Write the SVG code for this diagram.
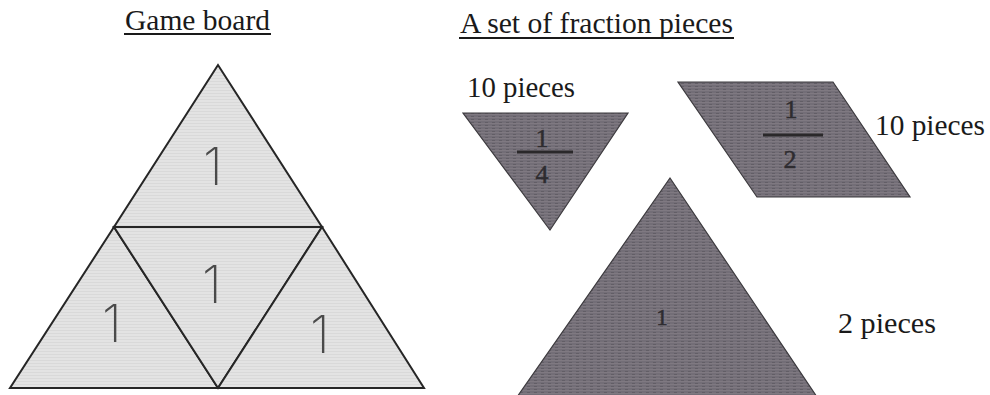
<svg xmlns="http://www.w3.org/2000/svg" width="990" height="395" viewBox="0 0 990 395">
<defs>
<pattern id="lightTex" width="6" height="3" patternUnits="userSpaceOnUse">
<rect width="6" height="3" fill="#e3e3e3"/>
<rect y="0" width="6" height="1" fill="#d9d9d9"/>
</pattern>
<pattern id="darkTex" width="7" height="3" patternUnits="userSpaceOnUse">
<rect width="7" height="3" fill="#736e77"/>
<rect y="0" width="7" height="1" fill="#7f7981"/>
<rect x="2" y="2" width="3" height="1" fill="#625e66"/>
</pattern>
<style>
.title{font-family:"Liberation Serif","Times New Roman",serif;font-size:29px;fill:#1a1a1a}
.lbl{font-family:"Liberation Serif","Times New Roman",serif;font-size:29px;fill:#1a1a1a}
.frac{font-family:"Liberation Serif","Times New Roman",serif;font-size:26px;fill:#2e2c30;stroke:#2e2c30;stroke-width:0.5;text-anchor:middle}
.one{font-family:"Inter","Liberation Sans",sans-serif;font-weight:200;font-size:52px;fill:#4a4a4a;text-anchor:middle}
.cell{fill:url(#lightTex);stroke:#262626;stroke-width:2;stroke-linejoin:miter}
.piece{fill:url(#darkTex);stroke:#3c3a3e;stroke-width:1.2}
.ul{stroke:#1a1a1a;stroke-width:2}
.bar{stroke:#2a282a;stroke-width:3}
</style>
</defs>
<rect width="990" height="395" fill="#ffffff"/>

<g id="title-board">
<text class="title" x="125" y="30" textLength="145" lengthAdjust="spacingAndGlyphs">Game board</text>
<line class="ul" x1="124" y1="34" x2="271" y2="34"/>
</g>
<g id="title-pieces">
<text class="title" x="460" y="33" textLength="273" lengthAdjust="spacingAndGlyphs">A set of fraction pieces</text>
<line class="ul" x1="459" y1="38" x2="734" y2="38"/>
</g>

<g id="board">
<g id="cell-top"><polygon class="cell" points="218,65 114,227 322,227"/><text class="one" x="213" y="185">1</text></g>
<g id="cell-left"><polygon class="cell" points="114,227 10,388 218,388"/><text class="one" x="112" y="342">1</text></g>
<g id="cell-middle"><polygon class="cell" points="114,227 322,227 218,388"/><text class="one" x="212" y="303">1</text></g>
<g id="cell-right"><polygon class="cell" points="322,227 218,388 424,388"/><text class="one" x="320" y="353">1</text></g>
</g>

<g id="piece-quarter">
<text class="lbl" x="467" y="97" textLength="108" lengthAdjust="spacingAndGlyphs">10 pieces</text>
<polygon class="piece" points="463,113 628,113 550,230"/>
<text class="frac" x="542" y="147">1</text>
<line class="bar" x1="517" y1="152" x2="573" y2="152"/>
<text class="frac" x="542" y="183">4</text>
</g>

<g id="piece-half">
<polygon class="piece" points="678,82 833,82 910,197 757,197"/>
<text class="frac" x="791" y="118">1</text>
<line class="bar" x1="763" y1="135" x2="823" y2="135"/>
<text class="frac" x="790" y="168">2</text>
<text class="lbl" x="875" y="135" textLength="110" lengthAdjust="spacingAndGlyphs">10 pieces</text>
</g>

<g id="piece-whole">
<polygon class="piece" points="670,178 817,397 517,397"/>
<text class="frac" x="662" y="325" style="font-size:23px">1</text>
<text class="lbl" x="838" y="333" textLength="98" lengthAdjust="spacingAndGlyphs">2 pieces</text>
</g>
</svg>
